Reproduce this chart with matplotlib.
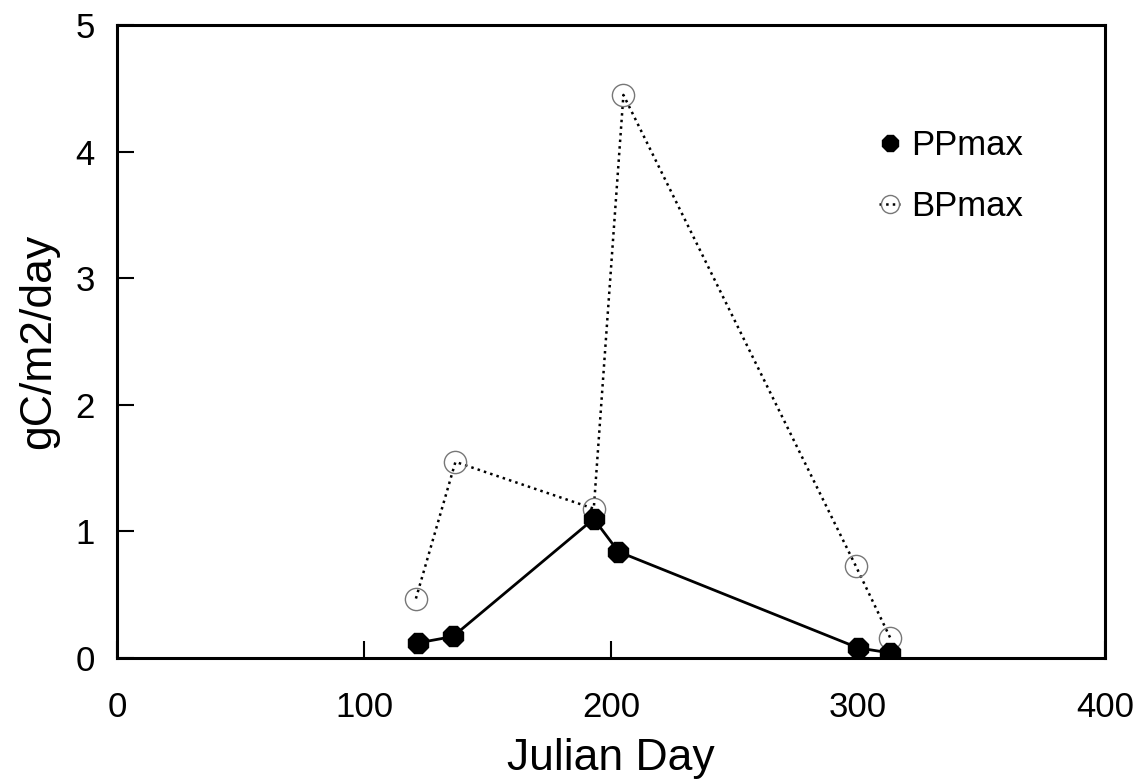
import matplotlib
matplotlib.use("Agg")
import matplotlib.pyplot as plt
from matplotlib.lines import Line2D

plt.rcParams['font.family'] = ['Liberation Sans', 'DejaVu Sans']

# data
pp_day = [122, 136, 193, 203, 300, 313]
pp_val = [0.12, 0.17, 1.10, 0.84, 0.08, 0.04]
bp_day = [121, 137, 193, 205, 299, 313]
bp_val = [0.47, 1.55, 1.18, 4.45, 0.73, 0.16]

fig = plt.figure(figsize=(11.44, 7.84), dpi=100)
ax = fig.add_axes([0.1023, 0.1607, 0.8637, 0.807])

ax.plot(bp_day, bp_val, linestyle=':', color='black', linewidth=1.8,
        marker='o', markersize=16, markerfacecolor='none',
        markeredgecolor='#777777', markeredgewidth=1.0, zorder=2)
ax.plot(pp_day, pp_val, linestyle='-', color='black', linewidth=2.0,
        marker='8', markersize=16, markerfacecolor='black',
        markeredgecolor='black', zorder=3)

ax.set_xlim(0, 400)
ax.set_ylim(0, 5)
ax.set_xticks([0, 100, 200, 300, 400])
ax.set_yticks([0, 1, 2, 3, 4, 5])
ax.tick_params(direction='in', length=12, width=1.5, labelsize=25)
ax.tick_params(axis='x', pad=24)
ax.tick_params(axis='y', pad=16)
for s in ax.spines.values():
    s.set_linewidth(2.2)

ax.set_xlabel('Julian Day', fontsize=32, labelpad=10)
ax.set_ylabel('gC/m2/day', fontsize=32, labelpad=12)

handles = [
    Line2D([], [], linestyle='none', marker='8', markersize=13,
           markerfacecolor='black', markeredgecolor='black'),
    Line2D([], [], linestyle=':', color='black', linewidth=1.8, marker='o',
           markersize=13, markerfacecolor='none', markeredgecolor='#777777',
           markeredgewidth=1.0),
]
ax.legend(handles, ['PPmax', 'BPmax'], loc='upper left',
          bbox_to_anchor=(0.74, 0.885), frameon=False, fontsize=25,
          handlelength=0.6, handletextpad=0.3, labelspacing=0.8)

fig.savefig('out.png', dpi=100)
